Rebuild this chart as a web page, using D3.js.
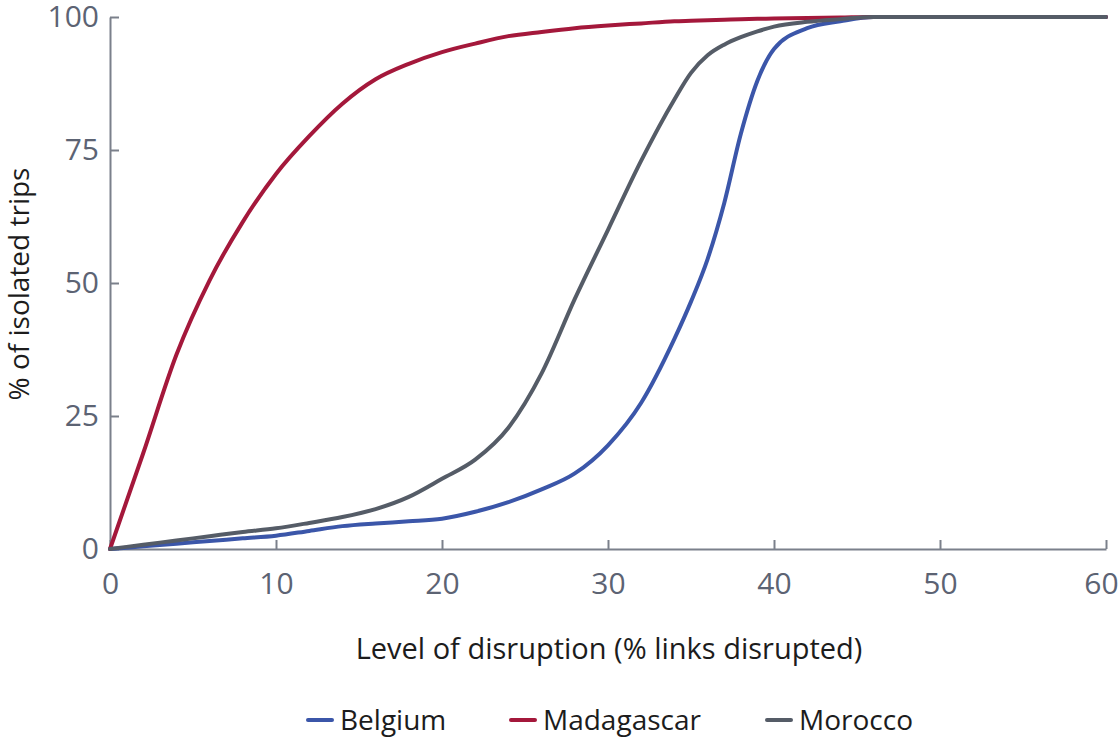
<!DOCTYPE html>
<html>
<head>
<meta charset="utf-8">
<style>
body { margin: 0; background: #fff; }
svg { font-family: "Open Sans", sans-serif; }
</style>
</head>
<body>
<svg width="1120" height="738"></svg>
<script src="https://d3js.org/d3.v7.min.js"></script>
<script>

// level of disruption (% links disrupted)
var disruption = [0, 2, 4, 6, 8, 10, 12, 14, 16, 18, 20, 22, 24, 26, 28, 30, 32, 34, 35, 36, 37, 38, 39, 40, 42, 44, 46, 50, 55, 60];

// % of isolated trips
var belgium    = [0, 0.5, 1.0, 1.5, 2.0, 2.5, 3.4, 4.3, 4.8, 5.2, 5.7, 7.0, 8.8, 11.2, 14.2, 19.5, 27.5, 39.5, 46.5, 54.5, 65, 78, 88, 94, 97.9, 99.2, 100, 100, 100, 100];
var madagascar = [0, 18, 36.5, 50.5, 61.5, 70.5, 77.6, 83.7, 88.3, 91.2, 93.4, 95, 96.4, 97.2, 97.9, 98.4, 98.8, 99.2, 99.3, 99.4, 99.5, 99.6, 99.65, 99.7, 99.8, 99.9, 100, 100, 100, 100];
var morocco    = [0, 0.8, 1.6, 2.4, 3.2, 3.9, 4.9, 6.0, 7.5, 9.8, 13.2, 16.8, 22.8, 33, 47, 60, 73, 84.5, 89.5, 92.8, 94.8, 96.2, 97.3, 98.2, 99.1, 99.6, 100, 100, 100, 100];

var countries = ["Belgium", "Madagascar", "Morocco"];
var colors = ["#3b56a9", "#a4183b", "#555c67"];
var xTicks = [0, 10, 20, 30, 40, 50, 60];
var yTicks = [0, 25, 50, 75, 100];

var series = [belgium, madagascar, morocco];

var svg = d3.select("svg");

var x = d3.scaleLinear().domain([0, 60]).range([110, 1106]);
var y = d3.scaleLinear().domain([0, 100]).range([549, 17]);

var axisColor = "#7b808b",
    tickText = "#5c6373";

var gx = svg.append("g")
    .attr("transform", "translate(0," + y(0) + ")")
    .call(d3.axisBottom(x).tickValues(xTicks).tickSizeInner(-9).tickSizeOuter(0).tickPadding(24));

var gy = svg.append("g")
    .attr("transform", "translate(" + x(0) + ",0)")
    .call(d3.axisLeft(y).tickValues(yTicks).tickSizeInner(-9).tickSizeOuter(0).tickPadding(11));

[gx, gy].forEach(function(g) {
  g.select(".domain").attr("stroke", axisColor).attr("stroke-width", 2);
  g.selectAll(".tick line").attr("stroke", axisColor).attr("stroke-width", 2);
  g.selectAll(".tick text")
      .attr("fill", tickText)
      .attr("font-size", "30px")
      .attr("font-family", "'Open Sans', sans-serif");
});

// keep the last x label inside the page
gx.selectAll(".tick text")
    .filter(function(d) { return d === 60; })
    .attr("dx", -5);

var line = d3.line()
    .x(function(d, i) { return x(disruption[i]); })
    .y(function(d) { return y(d); })
    .curve(d3.curveMonotoneX);

svg.append("g")
  .selectAll("path")
  .data(series)
  .enter().append("path")
    .attr("d", line)
    .attr("fill", "none")
    .attr("stroke", function(d, i) { return colors[i]; })
    .attr("stroke-width", 4)
    .attr("stroke-linejoin", "round")
    .attr("stroke-linecap", "round");

// axis titles
svg.append("text")
    .attr("x", 609)
    .attr("y", 659)
    .attr("text-anchor", "middle")
    .attr("font-size", "29px")
    .attr("fill", "#1c1c1c")
    .text("Level of disruption (% links disrupted)");

svg.append("text")
    .attr("transform", "translate(29,284) rotate(-90)")
    .attr("text-anchor", "middle")
    .attr("font-size", "28px")
    .attr("fill", "#1c1c1c")
    .text("% of isolated trips");

// legend
var legendX = [306, 509, 765];
var legend = svg.append("g")
  .selectAll("g")
  .data(countries)
  .enter().append("g")
    .attr("transform", function(d, i) { return "translate(" + legendX[i] + ",720)"; });

legend.append("line")
    .attr("x1", 2).attr("x2", 26)
    .attr("stroke", function(d, i) { return colors[i]; })
    .attr("stroke-width", 4)
    .attr("stroke-linecap", "round");

legend.append("text")
    .attr("x", 34)
    .attr("dy", "0.36em")
    .attr("font-size", "28px")
    .attr("fill", "#1c1c1c")
    .text(function(d) { return d; });

</script>
</body>
</html>
